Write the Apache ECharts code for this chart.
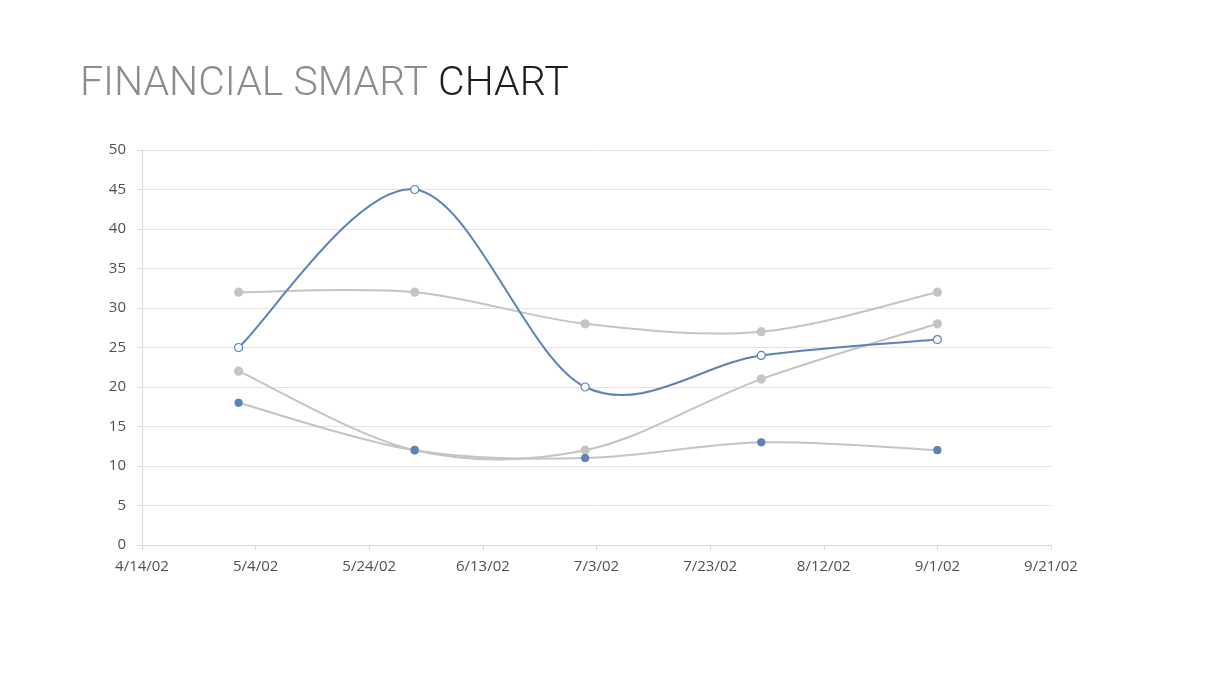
<!DOCTYPE html>
<html>
<head>
<meta charset="utf-8">
<script src="https://cdn.jsdelivr.net/npm/echarts@6/dist/echarts.min.js"></script>
<style>
html,body{margin:0;padding:0;background:#fff;}
#c{width:1205px;height:678px;}
</style>
</head>
<body>
<div id="c"></div>
<script>
// ---- data ----
const dates = ['2002-05-01', '2002-06-01', '2002-07-01', '2002-08-01', '2002-09-01'];
const seriesBlue = [25, 45, 20, 24, 26];
const seriesGrayTop = [32, 32, 28, 27, 32];
const seriesGrayMid = [22, 12, 12, 21, 28];
const seriesGrayLow = [18, 12, 11, 13, 12];
const axisStart = '2002-04-14';
const axisEnd = '2002-09-21';
const tickDays = 20;
const yTicks = [0, 5, 10, 15, 20, 25, 30, 35, 40, 45, 50];

// ---- helpers ----
const DAY = 86400000;
function toUTC(s) { const p = s.split('-').map(Number); return Date.UTC(p[0], p[1] - 1, p[2]); }
const base = toUTC(axisStart);
const dayOf = s => Math.round((toUTC(s) - base) / DAY);
const xs = dates.map(dayOf);
const pair = vals => vals.map((v, i) => [xs[i], v]);
function fmt(d) {
  const t = new Date(base + d * DAY);
  return (t.getUTCMonth() + 1) + '/' + t.getUTCDate() + '/' + String(t.getUTCFullYear()).slice(2);
}

const BLUE = '#5a83b8';
const GRAY = '#c4c4c4';
const labelStyle = { color: '#505050', fontSize: 15, fontFamily: 'Open Sans' };

// Smooth curve (Catmull-Rom style Bezier, like spreadsheet "smoothed line"),
// drawn segment by segment from data points mapped with api.coord.
function curveSeries(vals, color, z) {
  const pts = pair(vals);
  return {
    type: 'custom',
    z: z,
    silent: true,
    data: pts,
    renderItem: function (params, api) {
      const i = params.dataIndex;
      if (i >= pts.length - 1) return null;
      const P = k => api.coord(pts[Math.max(0, Math.min(pts.length - 1, k))]);
      const p0 = P(i - 1), p1 = P(i), p2 = P(i + 1), p3 = P(i + 2);
      const t = 1 / 6;
      return {
        type: 'bezierCurve',
        shape: {
          x1: p1[0], y1: p1[1],
          cpx1: p1[0] + (p2[0] - p0[0]) * t, cpy1: p1[1] + (p2[1] - p0[1]) * t,
          cpx2: p2[0] - (p3[0] - p1[0]) * t, cpy2: p2[1] - (p3[1] - p1[1]) * t,
          x2: p2[0], y2: p2[1]
        },
        style: { stroke: color, lineWidth: 2, fill: null }
      };
    }
  };
}
function markerSeries(vals, fill, border, size, z) {
  return {
    type: 'line', data: pair(vals), z: z,
    symbol: 'circle', symbolSize: size,
    lineStyle: { opacity: 0, width: 0 },
    itemStyle: { color: fill, borderColor: border, borderWidth: 1.2 }
  };
}

const chart = echarts.init(document.getElementById('c'), null, { renderer: 'canvas' });
chart.setOption({
  animation: false,
  backgroundColor: '#ffffff',
  title: {
    left: 75, top: 59,
    text: '{a|FINANCIAL SMART }{b|CHART}',
    textStyle: {
      rich: {
        a: { fontFamily: 'Roboto', fontWeight: 300, fontSize: 41, color: '#8c8c8c' },
        b: { fontFamily: 'Roboto', fontWeight: 300, fontSize: 41, color: '#1e1e1e' }
      }
    }
  },
  grid: { left: 142, right: 154, top: 150, bottom: 133 },
  xAxis: {
    type: 'value',
    min: 0, max: dayOf(axisEnd), interval: tickDays,
    axisLine: { show: true, lineStyle: { color: '#d9d9d9' } },
    axisTick: { show: true, length: 5, lineStyle: { color: '#d9d9d9' } },
    splitLine: { show: false },
    axisLabel: Object.assign({ formatter: v => fmt(v), margin: 14 }, labelStyle)
  },
  yAxis: {
    type: 'value',
    min: yTicks[0], max: yTicks[yTicks.length - 1], interval: yTicks[1] - yTicks[0],
    axisLine: { show: true, lineStyle: { color: '#d9d9d9' } },
    axisTick: { show: true, length: 5, lineStyle: { color: '#d9d9d9' } },
    splitLine: { show: true, lineStyle: { color: '#e3e3e3', width: 1 } },
    axisLabel: Object.assign({ margin: 16 }, labelStyle)
  },
  series: [
    curveSeries(seriesGrayTop, GRAY, 2),
    curveSeries(seriesGrayMid, GRAY, 2),
    curveSeries(seriesGrayLow, GRAY, 2),
    curveSeries(seriesBlue, BLUE, 3),
    markerSeries(seriesGrayTop, GRAY, GRAY, 8, 4),
    markerSeries(seriesGrayMid, GRAY, GRAY, 8, 4),
    markerSeries(seriesGrayLow, BLUE, BLUE, 7, 4),
    markerSeries(seriesBlue, '#ffffff', BLUE, 8, 5)
  ]
});
</script>
</body>
</html>
